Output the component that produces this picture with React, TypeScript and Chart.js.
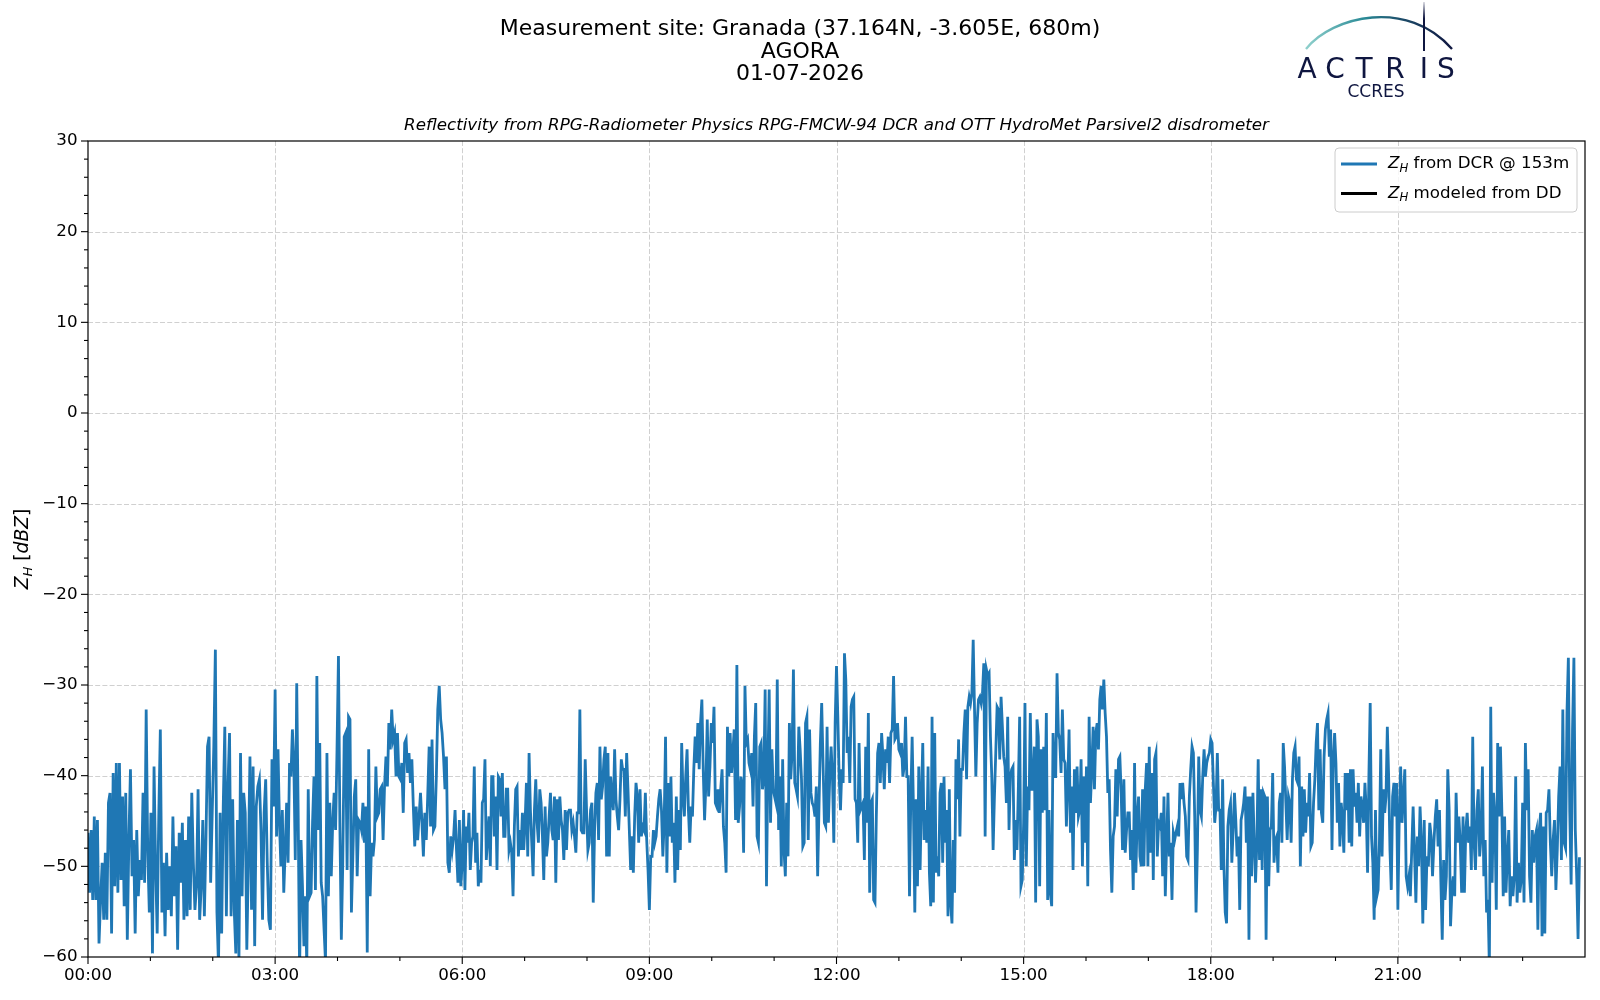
import React, { useEffect, useRef } from "react";
import { Chart, registerables } from "chart.js";

Chart.register(...registerables);

// Z_H from the DCR at 153 m in 3-hour blocks (dBZ)
const zh0000 = [
  -46.3, -52.9, -46.0, -53.7, -44.5, -53.7, -44.9, -58.5, -53.7, -49.6, -55.9, -48.5, -55.9, -43.0, -41.9, -57.4,
  -39.7, -52.2, -38.6, -52.9, -38.6, -51.5, -42.3, -54.4, -41.9, -58.1, -47.1, -39.3, -51.1, -47.1, -57.4, -46.0,
  -53.3, -49.3, -51.5, -41.9, -51.8, -32.7, -48.5, -55.1, -44.1, -59.6, -39.0, -50.0, -57.4, -44.5, -34.9, -55.1,
  -49.6, -57.7, -48.5, -54.8, -50.0, -55.5, -44.5, -53.3, -47.8, -59.2, -46.3, -51.8, -45.2, -55.9, -47.1, -55.5,
  -44.5, -54.8, -41.9, -49.6, -54.8, -52.2, -41.5, -55.9, -52.2, -44.9, -55.5, -47.1, -36.8, -35.7, -51.8, -44.1,
  -36.8, -26.1, -55.1, -61.0, -44.1, -57.4, -43.4, -34.6, -55.5, -41.2, -35.3, -55.5, -42.6, -54.8, -59.6, -44.9,
  -60.3, -37.5, -53.3, -41.9, -44.1, -59.2, -49.3, -37.9, -54.8, -39.0, -58.8, -43.4, -41.2, -40.4, -46.0, -55.9,
  -44.1, -40.4, -49.6, -55.9, -57.0, -38.2, -43.4,
];
const zh0300 = [
  -30.5, -46.7, -37.1, -45.2, -50.0, -43.8, -52.9, -48.2, -43.0, -49.6, -38.6, -40.1, -34.9, -38.6, -49.3, -29.8,
  -43.8, -62.0, -47.1, -52.2, -58.8, -53.3, -61.0, -41.5, -53.3, -52.9, -45.2, -40.1, -52.6, -29.0, -46.0, -36.4,
  -51.8, -53.3, -57.0, -60.5, -37.5, -53.3, -43.0, -51.1, -45.2, -41.9, -46.0, -37.1, -26.8, -45.6, -58.1, -49.6,
  -35.7, -35.3, -50.4, -33.5, -33.8, -55.1, -48.9, -42.3, -40.4, -51.1, -44.9, -45.2, -46.0, -43.0, -47.4, -43.4,
  -59.5, -37.1, -53.3, -47.4, -48.9, -47.1, -39.0, -44.5, -44.1, -41.5, -41.2, -47.1, -41.2, -37.9, -41.2, -34.2,
  -37.1, -32.7, -36.0, -35.3, -40.1, -35.3, -40.1, -40.4, -38.6, -44.1, -36.4, -36.0, -39.7, -37.5, -40.8, -38.2,
  -43.4, -47.8, -43.4, -47.1, -44.5, -41.9, -45.2, -48.9, -44.1, -47.1, -42.3, -36.8, -45.6, -36.0, -46.0, -45.6,
  -40.1, -32.7, -30.1, -33.8, -35.3, -37.9, -41.5, -37.9, -49.6, -50.7, -46.7, -48.2, -46.7, -43.8, -48.2, -51.8,
  -44.9, -52.2,
];
const zh0600 = [
  -49.6, -43.8, -52.6, -45.6, -47.4, -44.1, -50.4, -47.4, -46.7, -39.0, -49.6, -46.3, -52.2, -50.4, -51.8, -43.0,
  -42.6, -38.2, -49.3, -46.7, -44.5, -50.0, -40.1, -40.1, -46.7, -42.3, -50.4, -40.1, -40.4, -44.5, -39.7, -46.7,
  -46.7, -41.5, -41.5, -48.2, -47.4, -48.5, -53.3, -45.6, -41.5, -41.2, -48.9, -46.0, -48.2, -44.1, -48.2, -45.2,
  -40.8, -48.9, -37.5, -43.8, -47.4, -51.1, -43.8, -40.4, -45.2, -47.4, -41.5, -43.0, -46.7, -51.5, -43.4, -48.9,
  -47.4, -44.5, -41.9, -46.0, -47.1, -42.3, -51.8, -42.6, -47.1, -42.3, -44.9, -46.0, -49.3, -43.8, -48.2, -44.1,
  -43.8, -43.8, -46.0, -45.2, -46.7, -48.5, -44.1, -44.1, -32.7, -46.0, -46.3, -46.3, -38.2, -43.8, -48.2, -47.4,
  -43.8, -43.0, -54.0, -46.0, -41.9, -40.8, -47.1, -36.8, -42.6, -41.2, -38.2, -36.8, -48.9, -37.5, -48.9, -40.1,
  -42.3, -43.8, -37.1, -42.6, -44.5, -46.0, -42.6, -38.2, -39.3, -39.3, -44.5, -37.5, -41.5, -46.0, -50.4, -46.7,
  -50.7, -44.5, -40.8, -42.3, -47.4, -41.5, -46.7, -45.6, -46.0, -41.9, -47.1, -50.4,
];
const zh0900 = [
  -54.8, -48.9, -48.9, -46.0, -47.4, -46.7, -44.5, -42.6, -41.5, -43.8, -48.9, -45.2, -35.7, -50.7, -40.8, -46.7,
  -40.1, -47.4, -45.2, -51.8, -42.3, -50.4, -43.8, -48.2, -36.4, -42.3, -44.5, -40.1, -37.1, -43.8, -47.4, -43.4,
  -44.5, -39.3, -35.7, -38.6, -34.2, -39.3, -34.2, -31.6, -39.3, -44.9, -40.8, -33.8, -42.3, -39.0, -34.2, -36.4,
  -32.4, -43.0, -43.4, -41.5, -44.1, -41.5, -39.3, -45.6, -47.4, -50.7, -34.6, -40.1, -35.3, -39.7, -37.5, -34.9,
  -44.9, -27.8, -45.2, -43.4, -40.1, -41.2, -48.5, -30.1, -36.4, -36.0, -38.6, -39.3, -37.5, -43.4, -35.7, -32.0,
  -46.7, -47.4, -36.8, -36.4, -41.5, -40.4, -30.5, -52.2, -39.3, -30.5, -45.2, -37.1, -41.5, -42.3, -43.0, -29.4,
  -46.0, -40.1, -50.0, -38.2, -48.2, -51.1, -43.0, -48.9, -34.2, -40.4, -37.5, -28.3, -40.8, -41.5, -42.3, -34.6,
  -37.1, -40.4, -47.8, -47.4, -34.2, -33.5, -47.1, -34.9, -41.9, -43.0, -43.4, -44.5, -41.2, -51.1, -43.4, -36.4,
  -32.0, -38.6, -45.2, -45.6, -34.6, -45.2, -40.1, -36.8, -40.1, -47.4, -34.2,
];
const zh1200 = [
  -27.9, -33.5, -40.1, -43.8, -39.3, -40.8, -26.5, -29.4, -37.5, -35.7, -40.8, -32.4, -31.6, -31.3, -42.6, -43.0,
  -47.4, -36.4, -43.8, -43.4, -43.0, -49.3, -36.8, -45.2, -33.1, -52.9, -43.0, -42.6, -53.7, -54.0, -44.5, -37.5,
  -36.4, -40.8, -35.3, -37.9, -41.5, -37.1, -38.6, -35.7, -40.8, -35.3, -34.9, -29.0, -36.0, -35.7, -34.2, -37.1,
  -37.5, -36.4, -40.1, -39.0, -33.5, -40.1, -40.1, -53.3, -42.3, -35.7, -43.8, -55.1, -42.6, -52.2, -39.0, -50.4,
  -42.3, -36.4, -47.1, -43.8, -47.4, -39.0, -50.7, -54.4, -33.5, -54.0, -35.3, -50.7, -48.9, -51.1, -41.9, -40.8,
  -49.6, -40.1, -47.4, -43.8, -55.5, -41.5, -54.0, -56.3, -47.1, -52.9, -38.2, -42.6, -36.0, -46.7, -39.3, -39.3,
  -35.3, -32.7, -40.4, -32.4, -31.3, -32.0, -30.9, -25.0, -32.7, -40.1, -34.2, -31.6, -31.3, -32.0, -30.9, -27.6,
  -46.7, -28.3, -29.0, -28.7, -35.7, -40.1, -48.2, -42.3, -37.5, -32.4, -32.7, -38.2, -31.3, -34.6, -37.9, -39.0,
  -43.0, -33.5, -46.0, -40.1, -39.3, -39.0, -49.3, -44.9, -48.2, -41.5, -33.5, -52.2, -51.5,
];
const zh1500 = [
  -45.2, -32.0, -50.0, -41.2, -43.8, -33.1, -41.5, -41.5, -36.8, -54.0, -33.8, -35.7, -52.2, -37.1, -44.1, -36.8,
  -43.8, -33.1, -53.7, -43.8, -52.9, -54.4, -35.3, -40.1, -40.1, -28.7, -35.3, -36.0, -39.7, -32.7, -38.2, -38.6,
  -45.6, -40.8, -34.9, -46.3, -41.2, -50.4, -39.3, -44.1, -39.0, -44.5, -43.8, -38.2, -50.0, -40.1, -47.4, -39.0,
  -52.2, -33.5, -43.0, -39.3, -34.6, -41.5, -35.3, -34.2, -37.1, -31.6, -30.1, -32.7, -29.4, -33.1, -35.7, -41.9,
  -40.4, -48.2, -52.9, -46.7, -45.6, -39.3, -44.5, -38.2, -37.9, -41.9, -48.2, -40.4, -48.5, -46.0, -44.1, -44.1,
  -49.3, -46.0, -52.6, -38.6, -50.7, -44.5, -42.3, -48.9, -50.0, -41.5, -50.0, -41.5, -38.6, -50.0, -36.8, -48.5,
  -39.7, -51.5, -38.2, -37.5, -48.9, -45.2, -45.6, -44.1, -51.1, -42.3, -53.3, -47.4, -41.9, -48.9, -47.4, -53.7,
  -46.3, -47.1, -46.3, -45.6, -46.7, -40.8, -42.6, -40.8, -43.0, -44.5, -48.9, -49.3, -42.3, -39.3, -36.8, -37.5,
  -44.5, -55.1, -48.2, -37.9, -43.8, -44.5, -40.1, -37.1, -40.1, -38.6, -37.9, -37.5,
];
const zh1800 = [
  -36.0, -36.4, -40.8, -45.2, -43.4, -37.5, -43.8, -43.8, -50.4, -40.4, -50.0, -55.1, -56.3, -45.6, -43.8, -43.0,
  -49.6, -46.0, -41.9, -44.9, -48.9, -46.7, -54.8, -44.9, -44.1, -43.0, -41.2, -47.4, -42.3, -58.1, -42.3, -51.1,
  -41.9, -47.4, -51.8, -47.4, -38.2, -49.3, -41.5, -50.4, -41.9, -42.3, -58.1, -42.3, -52.2, -46.0, -45.6, -39.7,
  -49.6, -47.1, -46.7, -50.7, -43.0, -41.9, -47.4, -36.4, -39.0, -43.0, -47.1, -42.3, -43.0, -47.4, -40.4, -37.5,
  -36.8, -40.4, -40.8, -37.9, -50.0, -41.2, -46.7, -41.5, -46.3, -43.0, -44.5, -39.7, -47.8, -47.4, -43.0, -40.4,
  -36.4, -34.2, -43.8, -37.1, -44.1, -45.2, -37.9, -34.9, -33.8, -33.1, -37.9, -34.9, -48.2, -38.2, -35.3, -38.6,
  -45.2, -40.8, -47.8, -43.0, -44.9, -48.5, -39.7, -43.8, -39.7, -47.4, -39.3, -47.8, -39.3, -43.4, -41.9, -45.2,
  -40.8, -46.7, -42.3, -43.4, -45.2, -40.8, -43.8, -50.7, -40.1, -32.0, -46.7, -49.6, -55.9, -43.8, -53.3, -52.6,
  -47.4, -37.1, -48.9, -41.5, -44.1, -42.3, -34.6, -40.1, -48.2, -52.6, -42.3, -40.8, -44.5, -40.8,
];
const zh2100 = [
  -54.8, -44.5, -39.0, -45.2, -42.3, -39.3, -51.1, -52.2, -51.1, -53.3, -48.2, -43.4, -48.5, -54.0, -46.7, -50.0,
  -43.4, -47.4, -56.3, -44.9, -54.8, -48.9, -50.0, -45.2, -46.7, -51.1, -47.4, -44.5, -42.6, -47.8, -43.8, -51.5,
  -58.1, -49.3, -53.7, -51.1, -39.3, -43.8, -56.6, -52.6, -51.1, -53.3, -41.9, -47.4, -44.5, -47.4, -52.9, -44.5,
  -52.9, -46.0, -44.1, -47.4, -45.6, -50.4, -35.7, -47.4, -50.4, -43.8, -41.5, -48.9, -46.7, -39.0, -51.1, -47.1,
  -55.1, -53.7, -61.0, -32.4, -51.8, -41.9, -44.5, -54.8, -36.4, -44.5, -36.8, -43.8, -53.3, -44.5, -52.9, -48.9,
  -46.0, -54.4, -51.1, -53.3, -51.1, -40.1, -54.0, -49.6, -52.9, -51.5, -43.0, -54.0, -36.4, -43.8, -39.3, -51.1,
  -54.0, -46.0, -49.6, -46.7, -46.0, -57.0, -46.0, -44.1, -57.7, -45.6, -57.4, -44.1, -43.8, -41.5, -47.4, -51.1,
  -47.1, -44.9, -52.6, -48.2, -42.3, -39.0, -49.3, -32.7, -47.4, -48.0, -33.0, -27.0, -44.0, -52.0, -35.0, -27.0,
  -46.0, -51.0, -58.0, -49.0,
];

// minutes after 00:00 where each block starts, and how long it lasts
const blockStarts = [0, 180, 360, 540, 720, 900, 1080, 1260];
const blockSpans = [180, 180, 180, 180, 180, 180, 180, 176];
const blocks = [zh0000, zh0300, zh0600, zh0900, zh1200, zh1500, zh1800, zh2100];

const xTickMinutes = [0, 180, 360, 540, 720, 900, 1080, 1260];
const xTickLabels = ["00:00", "03:00", "06:00", "09:00", "12:00", "15:00", "18:00", "21:00"];
const yTicks = [30, 20, 10, 0, -10, -20, -30, -40, -50, -60];

const titleLines = ["Measurement site: Granada (37.164N, -3.605E, 680m)", "AGORA", "01-07-2026"];
const subtitle =
  "Reflectivity from RPG-Radiometer Physics RPG-FMCW-94 DCR and OTT HydroMet Parsivel2 disdrometer";

const FONT = '"DejaVu Sans", sans-serif';

type Part = { t: string; italic?: boolean; sub?: boolean };

function partFont(p: Part, size: number) {
  return `${p.italic ? "italic " : ""}${p.sub ? size * 0.7 : size}px ${FONT}`;
}

function partsWidth(ctx: CanvasRenderingContext2D, parts: Part[], size: number) {
  let w = 0;
  for (const p of parts) {
    ctx.font = partFont(p, size);
    w += ctx.measureText(p.t).width;
  }
  return w;
}

function drawParts(ctx: CanvasRenderingContext2D, parts: Part[], x: number, y: number, size: number) {
  for (const p of parts) {
    ctx.font = partFont(p, size);
    ctx.fillText(p.t, x, y + (p.sub ? size * 0.28 : 0));
    x += ctx.measureText(p.t).width;
  }
}

const fmt = (v: number) => (v < 0 ? "\u2212" + Math.abs(v) : String(v));

const decor = {
  id: "decor",
  beforeDatasetsDraw(chart: any) {
    const { ctx, chartArea: a, scales } = chart;
    ctx.save();
    ctx.strokeStyle = "#d0d0d0";
    ctx.lineWidth = 1;
    ctx.setLineDash([5, 2.2]);
    for (const v of yTicks) {
      const py = Math.round(scales.y.getPixelForValue(v)) + 0.5;
      if (v === 30 || v === -60) continue;
      ctx.beginPath();
      ctx.moveTo(a.left, py);
      ctx.lineTo(a.right, py);
      ctx.stroke();
    }
    for (const m of xTickMinutes) {
      if (m === 0) continue;
      const px = Math.round(scales.x.getPixelForValue(m)) + 0.5;
      ctx.beginPath();
      ctx.moveTo(px, a.top);
      ctx.lineTo(px, a.bottom);
      ctx.stroke();
    }
    ctx.restore();
  },
  afterDraw(chart: any) {
    const { ctx, chartArea: a, scales } = chart;
    ctx.save();
    ctx.fillStyle = "#000";
    ctx.strokeStyle = "#000";

    // frame
    ctx.lineWidth = 1.2;
    ctx.strokeRect(a.left, a.top, a.right - a.left, a.bottom - a.top);

    // y ticks, major every 10, minor every 2
    ctx.lineWidth = 1.1;
    for (let v = -60; v <= 30; v += 2) {
      const py = scales.y.getPixelForValue(v);
      const len = v % 10 === 0 ? 7 : 4;
      ctx.beginPath();
      ctx.moveTo(a.left - len, py);
      ctx.lineTo(a.left, py);
      ctx.stroke();
    }
    ctx.font = `16.7px ${FONT}`;
    ctx.textAlign = "right";
    ctx.textBaseline = "middle";
    for (const v of yTicks) {
      ctx.fillText(fmt(v), a.left - 10.5, scales.y.getPixelForValue(v));
    }

    // x ticks, major every 3 h, minor every hour
    for (let m = 0; m < 1440; m += 60) {
      const px = scales.x.getPixelForValue(m);
      const len = m % 180 === 0 ? 7 : 4;
      ctx.beginPath();
      ctx.moveTo(px, a.bottom);
      ctx.lineTo(px, a.bottom + len);
      ctx.stroke();
    }
    ctx.textAlign = "center";
    ctx.textBaseline = "top";
    xTickMinutes.forEach((m, i) => {
      ctx.fillText(xTickLabels[i], scales.x.getPixelForValue(m), a.bottom + 10);
    });

    // y axis label
    const yl: Part[] = [
      { t: "Z", italic: true },
      { t: "H", italic: true, sub: true },
      { t: " [" },
      { t: "dBZ", italic: true },
      { t: "]" },
    ];
    ctx.save();
    ctx.translate(23, (a.top + a.bottom) / 2);
    ctx.rotate(-Math.PI / 2);
    ctx.textAlign = "left";
    ctx.textBaseline = "middle";
    const ylw = partsWidth(ctx, yl, 18.7);
    drawParts(ctx, yl, -ylw / 2, 0, 18.7);
    ctx.restore();

    // titles
    ctx.textAlign = "center";
    ctx.textBaseline = "middle";
    ctx.font = `22px ${FONT}`;
    titleLines.forEach((t, i) => ctx.fillText(t, 800, 29.5 + i * 22.4));
    ctx.font = `italic 16.7px ${FONT}`;
    ctx.fillText(subtitle, (a.left + a.right) / 2, 126);

    // legend
    const lx = 1335, ly = 148, lw = 242, lh = 64;
    ctx.beginPath();
    ctx.roundRect(lx, ly, lw, lh, 4);
    ctx.fillStyle = "rgba(255,255,255,0.8)";
    ctx.fill();
    ctx.strokeStyle = "#cccccc";
    ctx.lineWidth = 1;
    ctx.stroke();
    const entries = chart.data.datasets.map((d: any, i: number) => ({
      color: d.borderColor,
      rest: i === 0 ? " from DCR @ 153m" : " modeled from DD",
    }));
    entries.forEach((e: any, i: number) => {
      const ry = 164 + i * 29.5;
      ctx.strokeStyle = e.color;
      ctx.lineWidth = 2.8;
      ctx.beginPath();
      ctx.moveTo(1341, ry);
      ctx.lineTo(1377, ry);
      ctx.stroke();
      ctx.fillStyle = "#000";
      ctx.textAlign = "left";
      ctx.textBaseline = "middle";
      drawParts(
        ctx,
        [{ t: "Z", italic: true }, { t: "H", italic: true, sub: true }, { t: e.rest }],
        1388,
        ry,
        16.7,
      );
    });

    // ACTRIS / CCRES logo
    const navy = "#0f1640";
    const grad = ctx.createLinearGradient(1306, 0, 1452, 0);
    grad.addColorStop(0, "#8fd0cc");
    grad.addColorStop(0.4, "#2a8a96");
    grad.addColorStop(0.65, "#1d4d6a");
    grad.addColorStop(1, navy);
    ctx.strokeStyle = grad;
    ctx.lineWidth = 2.3;
    ctx.beginPath();
    ctx.moveTo(1306, 49);
    ctx.bezierCurveTo(1332, 16, 1408, -2, 1452, 49);
    ctx.stroke();
    const vgrad = ctx.createLinearGradient(0, 2, 0, 50);
    vgrad.addColorStop(0, "rgba(15,22,64,0.15)");
    vgrad.addColorStop(0.35, navy);
    vgrad.addColorStop(1, navy);
    ctx.strokeStyle = vgrad;
    ctx.lineWidth = 2;
    ctx.beginPath();
    ctx.moveTo(1424, 2);
    ctx.lineTo(1424, 51);
    ctx.stroke();
    ctx.fillStyle = navy;
    ctx.font = `28px ${FONT}`;
    ctx.textAlign = "center";
    ctx.textBaseline = "alphabetic";
    const letters = ["A", "C", "T", "R", "I", "S"];
    const centers = [1307, 1335, 1364, 1395, 1424, 1446];
    letters.forEach((l, i) => ctx.fillText(l, centers[i], 77.5));
    ctx.font = `17px ${FONT}`;
    ctx.textBaseline = "middle";
    ctx.fillText("CCRES", 1376, 92.5);

    ctx.restore();
  },
};

export default function App(): React.JSX.Element {
  const canvasRef = useRef<HTMLCanvasElement | null>(null);

  useEffect(() => {
    if (!canvasRef.current) return;

    const points = blocks.flatMap((vals, b) =>
      vals.map((v, i) => ({ x: blockStarts[b] + (i * blockSpans[b]) / vals.length, y: v })),
    );

    const chart = new Chart(canvasRef.current, {
      type: "line",
      data: {
        datasets: [
          {
            label: "Z_H from DCR @ 153m",
            data: points,
            borderColor: "#1f77b4",
            borderWidth: 2.8,
            pointRadius: 0,
            tension: 0,
            clip: 0,
          },
          {
            label: "Z_H modeled from DD",
            data: [],
            borderColor: "#000000",
            borderWidth: 2.8,
            pointRadius: 0,
          },
        ],
      },
      options: {
        animation: false,
        responsive: false,
        devicePixelRatio: 1,
        layout: { padding: { left: 88, right: 15, top: 141, bottom: 43 } },
        scales: {
          x: { type: "linear", min: 0, max: 1440, display: false },
          y: { type: "linear", min: -60, max: 30, display: false },
        },
        plugins: {
          legend: { display: false },
          tooltip: { enabled: false },
        },
      },
      plugins: [decor],
    });

    return () => {
      chart.destroy();
    };
  }, []);

  return (
    <div style={{ position: "fixed", left: 0, top: 0, width: 1600, height: 1000, background: "#fff" }}>
      <canvas ref={canvasRef} width={1600} height={1000} style={{ display: "block" }} />
    </div>
  );
}
